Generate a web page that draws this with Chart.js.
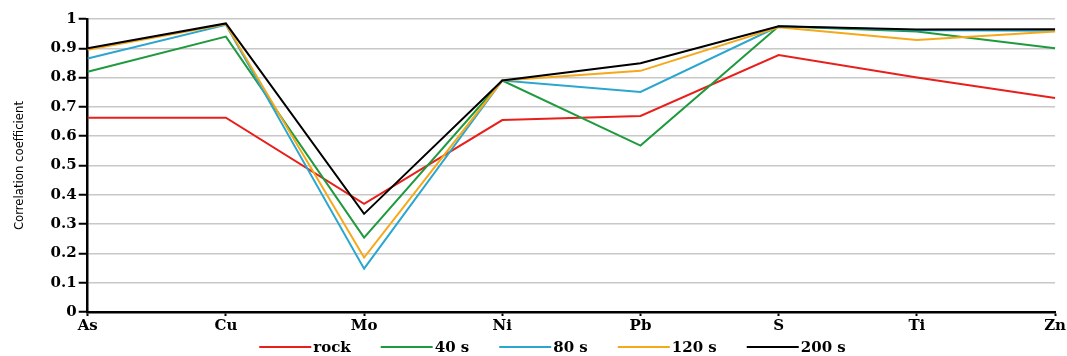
<!DOCTYPE html>
<html>
<head>
<meta charset="utf-8">
<script src="https://cdn.jsdelivr.net/npm/chart.js@4/dist/chart.umd.min.js"></script>
<style>
  html, body { margin: 0; padding: 0; background: #fff; }
  #wrap { width: 1067px; height: 356px; }
</style>
</head>
<body>
<div id="wrap"><canvas id="corrChart"></canvas></div>
<script>
// elements on the x axis
const elements = ['As', 'Cu', 'Mo', 'Ni', 'Pb', 'S', 'Ti', 'Zn'];

// correlation coefficients
const rock = [0.663, 0.663, 0.369, 0.655, 0.669, 0.877, 0.80, 0.73];
const s40  = [0.82, 0.94, 0.254, 0.79, 0.568, 0.975, 0.957, 0.90];
const s80  = [0.865, 0.98, 0.148, 0.79, 0.751, 0.975, 0.962, 0.96];
const s120 = [0.895, 0.982, 0.186, 0.79, 0.823, 0.972, 0.928, 0.957];
const s200 = [0.90, 0.985, 0.335, 0.79, 0.849, 0.975, 0.964, 0.965];

const seriesNames = ['rock', '40 s', '80 s', '120 s', '200 s'];
const seriesColors = ['#e8201c', '#1f9a3e', '#2ba6cf', '#f5a91a', '#000000'];

const serif = '"DejaVu Serif", "Liberation Serif", serif';

const ctx = document.getElementById('corrChart').getContext('2d');

const allSeries = [rock, s40, s80, s120, s200];
const datasets = allSeries.map((vals, i) => ({
  label: seriesNames[i],
  data: vals,
  borderColor: seriesColors[i],
  backgroundColor: seriesColors[i],
  borderWidth: 2,
  pointRadius: 0,
  tension: 0,
  order: allSeries.length - i   // black line drawn on top
}));

// legend drawn by hand: long line sample, text right after it, wide gaps
const lineLegend = {
  id: 'lineLegend',
  afterDraw(chart) {
    const c = chart.ctx;
    const sets = chart.data.datasets;
    const lineLen = 52, textGap = 2, itemGap = 30;
    c.save();
    c.font = 'bold 15px ' + serif;
    c.textBaseline = 'middle';
    const widths = sets.map(d => lineLen + textGap + c.measureText(d.label).width);
    const total = widths.reduce((a, b) => a + b, 0) + itemGap * (sets.length - 1);
    let x = chart.width / 2 + 19 - total / 2;
    const y = chart.height - 9;
    sets.forEach((d, i) => {
      c.strokeStyle = d.borderColor;
      c.lineWidth = 2;
      c.beginPath();
      c.moveTo(x, y);
      c.lineTo(x + lineLen, y);
      c.stroke();
      c.fillStyle = '#000';
      c.fillText(d.label, x + lineLen + textGap, y + 1);
      x += widths[i] + itemGap;
    });
    c.restore();
  }
};

const tickFont = { family: serif, size: 15, weight: 'bold' };

new Chart(ctx, {
  type: 'line',
  data: { labels: elements, datasets: datasets },
  plugins: [lineLegend],
  options: {
    responsive: true,
    maintainAspectRatio: false,
    animation: false,
    layout: { padding: { top: 19, right: 6, left: 8, bottom: 20 } },
    plugins: {
      tooltip: { enabled: false },
      legend: { display: false }
    },
    scales: {
      x: {
        offset: false,
        border: { display: true, color: '#000', width: 2.5 },
        grid: { drawOnChartArea: false, drawTicks: true, tickLength: 4, tickColor: '#000', tickWidth: 2 },
        ticks: { color: '#000', font: tickFont, padding: 1, maxRotation: 0, autoSkip: false }
      },
      y: {
        min: 0,
        max: 1,
        border: { display: true, color: '#000', width: 2.5 },
        grid: { color: '#c8c8c8', lineWidth: 1.5, tickLength: 9, tickColor: '#000', tickWidth: 2 },
        ticks: {
          stepSize: 0.1,
          color: '#000',
          font: tickFont,
          padding: 2,
          callback: v => Math.round(v * 10) / 10
        },
        title: {
          display: true,
          text: 'Correlation coefficient',
          color: '#000',
          font: { family: '"Liberation Sans Narrow", "DejaVu Sans Condensed", sans-serif', size: 13 },
          padding: { top: 4, bottom: 21 }
        }
      }
    }
  }
});
</script>
</body>
</html>
